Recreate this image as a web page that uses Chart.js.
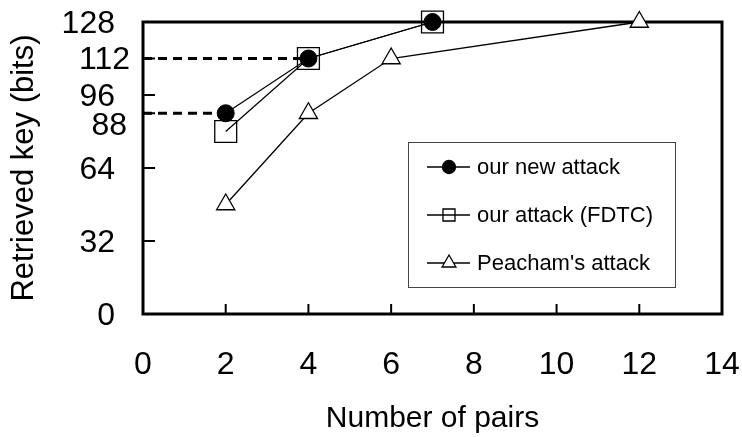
<!DOCTYPE html>
<html>
<head>
<meta charset="utf-8">
<script src="https://cdn.jsdelivr.net/npm/chart.js@4/dist/chart.umd.min.js"></script>
<style>
  body { margin: 0; background: #fff; }
  #wrap { width: 742px; height: 437px; }
</style>
</head>
<body>
<div id="wrap"><canvas id="keyChart" width="742" height="437"></canvas></div>
<script>
// dados
const newAttackX = [2, 4, 7];
const newAttackY = [88, 112, 128];
const fdtcX = [2, 4, 7];
const fdtcY = [80, 112, 128];
const peachamX = [2, 4, 6, 12];
const peachamY = [48, 88, 112, 128];
const yTickValues = [0, 32, 64, 88, 96, 112, 128];
const yShiftedLabels = [88, 112];   // no original estes rótulos ficam deslocados
const xTickStep = 2;
const seriesNames = ["our new attack", "our attack (FDTC)", "Peacham's attack"];

const FONT = "'Liberation Sans', Arial, sans-serif";

function toPoints(xs, ys) {
    return xs.map((x, i) => ({ x: x, y: ys[i] }));
}

// linhas tracejadas do eixo até os pontos do novo ataque
function guideLine(idx) {
    return [{ x: 0, y: newAttackY[idx] }, { x: newAttackX[idx], y: newAttackY[idx] }];
}

// caixa do gráfico, ticks para dentro, legenda e rótulos deslocados
const framePlugin = {
    id: 'frame',
    beforeDatasetsDraw(chart) {
        const { ctx, chartArea: a, scales } = chart;
        ctx.save();
        ctx.strokeStyle = '#000';
        ctx.lineWidth = 3;
        ctx.strokeRect(a.left, a.top, a.right - a.left, a.bottom - a.top);
        ctx.beginPath();
        yTickValues.forEach(v => {
            if (v === scales.y.min || v === scales.y.max) return;
            const py = scales.y.getPixelForValue(v);
            ctx.moveTo(a.left, py);
            ctx.lineTo(a.left + 12, py);
        });
        scales.x.ticks.forEach(t => {
            if (t.value === scales.x.min || t.value === scales.x.max) return;
            const px = scales.x.getPixelForValue(t.value);
            ctx.moveTo(px, a.bottom);
            ctx.lineTo(px, a.bottom - 10);
        });
        ctx.lineWidth = 2;
        ctx.stroke();
        ctx.restore();
    },
    afterDraw(chart) {
        const { ctx, chartArea: a, scales } = chart;
        ctx.save();

        // rótulos 88 e 112 (deslocados no original)
        ctx.fillStyle = '#000';
        ctx.font = '32px ' + FONT;
        ctx.textAlign = 'right';
        ctx.textBaseline = 'middle';
        ctx.fillText(String(yShiftedLabels[0]), a.left - 16, scales.y.getPixelForValue(yShiftedLabels[0]) + 13);
        ctx.fillText(String(yShiftedLabels[1]), a.left - 13, scales.y.getPixelForValue(yShiftedLabels[1]) + 2);

        // legenda
        const bx = a.left + 265, by = a.top + 120, bw = 267, bh = 145;
        ctx.fillStyle = '#fff';
        ctx.fillRect(bx, by, bw, bh);
        ctx.strokeStyle = '#444';
        ctx.lineWidth = 1;
        ctx.strokeRect(bx + 0.5, by + 0.5, bw, bh);

        const items = chart.data.datasets.filter(d => d.inLegend);
        items.forEach((d, i) => {
            const cy = by + 25 + i * 48;
            ctx.strokeStyle = '#000';
            ctx.lineWidth = 1.3;
            ctx.beginPath();
            ctx.moveTo(bx + 19, cy);
            ctx.lineTo(bx + 62, cy);
            ctx.stroke();
            ctx.fillStyle = d.pointBackgroundColor;
            Chart.helpers.drawPoint(ctx, {
                pointStyle: d.pointStyle,
                radius: d.legendRadius,
                rotation: 0,
                borderWidth: 1.3
            }, bx + 41, cy);
            ctx.fillStyle = '#000';
            ctx.font = '22px ' + FONT;
            ctx.textAlign = 'left';
            ctx.textBaseline = 'middle';
            ctx.fillText(d.label, bx + 69, cy + 1);
        });
        ctx.restore();
    }
};

const ctx = document.getElementById('keyChart').getContext('2d');

new Chart(ctx, {
    type: 'line',
    data: {
        datasets: [
            {
                label: seriesNames[0],
                data: toPoints(newAttackX, newAttackY),
                borderColor: '#000',
                borderWidth: 1.3,
                pointStyle: 'circle',
                pointRadius: 8.5,
                pointBackgroundColor: '#000',
                pointBorderColor: '#000',
                pointBorderWidth: 1,
                legendRadius: 6.5,
                inLegend: true,
                clip: false
            },
            {
                label: seriesNames[1],
                data: toPoints(fdtcX, fdtcY),
                borderColor: '#000',
                borderWidth: 1.3,
                pointStyle: 'rect',
                pointRadius: 15.5,
                pointBackgroundColor: 'rgba(0,0,0,0)',
                pointBorderColor: '#000',
                pointBorderWidth: 1.3,
                legendRadius: 8.5,
                inLegend: true,
                clip: false
            },
            {
                label: seriesNames[2],
                data: toPoints(peachamX, peachamY),
                borderColor: '#000',
                borderWidth: 1.3,
                pointStyle: 'triangle',
                pointRadius: 10.5,
                pointBackgroundColor: '#fff',
                pointBorderColor: '#000',
                pointBorderWidth: 1.3,
                legendRadius: 8,
                inLegend: true,
                clip: false
            },
            {
                label: 'guide-low',
                data: guideLine(0),
                borderColor: '#000',
                borderWidth: 3,
                borderDash: [9, 6],
                pointRadius: 0,
                inLegend: false
            },
            {
                label: 'guide-high',
                data: guideLine(1),
                borderColor: '#000',
                borderWidth: 3,
                borderDash: [9, 6],
                pointRadius: 0,
                inLegend: false
            }
        ]
    },
    options: {
        responsive: false,
        animation: false,
        layout: { padding: { top: 22, right: 20, left: 0, bottom: 0 } },
        plugins: {
            legend: { display: false },
            tooltip: { enabled: false }
        },
        scales: {
            x: {
                type: 'linear',
                min: 0,
                max: 14,
                grid: { display: false, drawTicks: false },
                border: { display: false },
                ticks: {
                    stepSize: xTickStep,
                    padding: 32,
                    color: '#000',
                    font: { family: FONT, size: 32 }
                },
                title: {
                    display: true,
                    text: 'Number of pairs',
                    color: '#000',
                    font: { family: FONT, size: 30 },
                    padding: { top: 0, bottom: 0 }
                },
                afterFit(scale) {
                    scale.height = 123;
                    scale.paddingLeft = 0;
                    scale.paddingRight = 0;
                }
            },
            y: {
                type: 'linear',
                min: 0,
                max: 128,
                grid: { display: false, drawTicks: false },
                border: { display: false },
                afterBuildTicks(scale) {
                    scale.ticks = yTickValues.map(v => ({ value: v }));
                },
                ticks: {
                    padding: 28,
                    labelOffset: 2,
                    color: '#000',
                    font: { family: FONT, size: 32 },
                    callback: v => (yShiftedLabels.includes(v) ? '' : String(v))
                },
                title: {
                    display: true,
                    text: 'Retrieved key (bits)',
                    color: '#000',
                    font: { family: FONT, size: 31 },
                    padding: { top: 6, bottom: 0 }
                },
                afterFit(scale) {
                    scale.width = 143;
                    scale.paddingTop = 0;
                    scale.paddingBottom = 0;
                }
            }
        }
    },
    plugins: [framePlugin]
});
</script>
</body>
</html>
